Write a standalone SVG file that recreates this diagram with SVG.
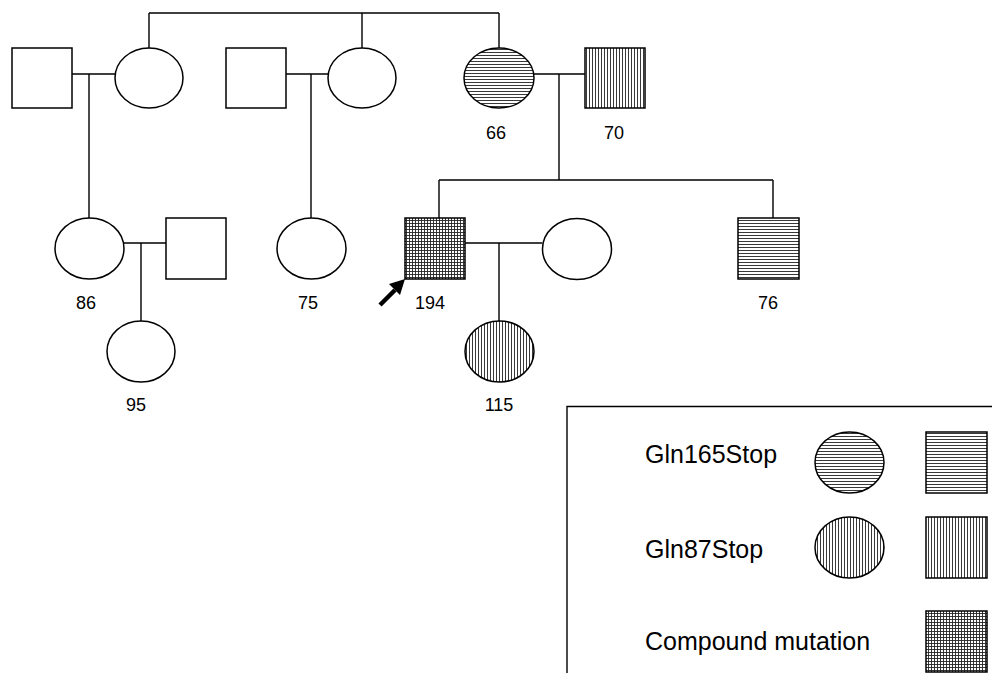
<svg xmlns="http://www.w3.org/2000/svg" width="992" height="673" viewBox="0 0 992 673">
<defs>
<pattern id="hz" patternUnits="userSpaceOnUse" width="4" height="3"><rect width="4" height="3" fill="#fff"/><line x1="0" y1="1.5" x2="4" y2="1.5" stroke="#222" stroke-width="0.9"/></pattern>
<pattern id="vt" patternUnits="userSpaceOnUse" width="3" height="4"><rect width="3" height="4" fill="#fff"/><line x1="1.5" y1="0" x2="1.5" y2="4" stroke="#222" stroke-width="0.9"/></pattern>
<pattern id="cx" patternUnits="userSpaceOnUse" width="3" height="3"><rect width="3" height="3" fill="#fff"/><line x1="0" y1="1.5" x2="3" y2="1.5" stroke="#222" stroke-width="0.9"/><line x1="1.5" y1="0" x2="1.5" y2="3" stroke="#222" stroke-width="0.9"/></pattern>
</defs>
<style>
.s{fill:#fff;stroke:#000;stroke-width:1.5}
.l{fill:none;stroke:#000;stroke-width:1.4}
.t{font-family:"Liberation Sans",Arial,sans-serif;font-size:18px;fill:#000;text-anchor:middle}
.g{font-family:"Liberation Sans",Arial,sans-serif;font-size:25px;fill:#000}
</style>
<rect width="992" height="673" fill="#fff"/>
<g id="connectors" class="l">
<path d="M149,13 H499 M149,13 V48 M362,13 V48 M499,13 V48"/>
<path d="M72,74 H115 M89,74 V218"/>
<path d="M286,74 H328 M311,74 V218"/>
<path d="M534,74 H585 M559,74 V180 M439,180 H773 M439,180 V218 M773,180 V218"/>
<path d="M124,243 H166 M141,243 V321"/>
<path d="M465,243 H542 M499,243 V321"/>
</g>
<g id="n1"><rect class="s" x="12" y="48" width="60" height="60"/></g>
<g id="n2"><ellipse class="s" cx="149" cy="78" rx="34" ry="30"/></g>
<g id="n3"><rect class="s" x="226" y="48" width="60" height="60"/></g>
<g id="n4"><ellipse class="s" cx="362" cy="78" rx="34" ry="30"/></g>
<g id="n66"><ellipse class="s" cx="499" cy="78" rx="35" ry="30" fill="url(#hz)" style="fill:url(#hz)"/><text class="t" x="496" y="139">66</text></g>
<g id="n70"><rect class="s" x="585" y="48" width="60" height="60" style="fill:url(#vt)"/><text class="t" x="614" y="139">70</text></g>
<g id="n86"><ellipse class="s" cx="89.5" cy="248.5" rx="34.5" ry="30.5"/><text class="t" x="86" y="309">86</text></g>
<g id="n86m"><rect class="s" x="166" y="218" width="60" height="61"/></g>
<g id="n75"><ellipse class="s" cx="311.5" cy="248.5" rx="34.5" ry="30.5"/><text class="t" x="308" y="309">75</text></g>
<g id="n194"><rect class="s" x="405" y="218" width="60" height="61" style="fill:url(#cx)"/><text class="t" x="430" y="309">194</text>
<path d="M380,305 L395,290" stroke="#000" stroke-width="4.5" fill="none"/><polygon points="405,279 389,284 400,295" fill="#000"/></g>
<g id="n194w"><ellipse class="s" cx="577" cy="249" rx="34.5" ry="30.5"/></g>
<g id="n76"><rect class="s" x="738" y="218" width="61" height="61" style="fill:url(#hz)"/><text class="t" x="768" y="309">76</text></g>
<g id="n95"><ellipse class="s" cx="141" cy="351.5" rx="34" ry="30.5"/><text class="t" x="136" y="411">95</text></g>
<g id="n115"><ellipse class="s" cx="499.5" cy="351.5" rx="34.5" ry="30.5" style="fill:url(#vt)"/><text class="t" x="499" y="411">115</text></g>
<g id="legend">
<path class="l" d="M567,673 V406.5 H992"/>
<text class="g" x="645" y="463">Gln165Stop</text>
<text class="g" x="645" y="558">Gln87Stop</text>
<text class="g" x="645" y="650">Compound mutation</text>
<ellipse class="s" cx="849.5" cy="462.5" rx="34.5" ry="30.5" style="fill:url(#hz)"/>
<rect class="s" x="926" y="432" width="61" height="61" style="fill:url(#hz)"/>
<ellipse class="s" cx="849.5" cy="547.5" rx="34.5" ry="30.5" style="fill:url(#vt)"/>
<rect class="s" x="926" y="517" width="61" height="61" style="fill:url(#vt)"/>
<rect class="s" x="926" y="611" width="61" height="61" style="fill:url(#cx)"/>
</g>
</svg>
